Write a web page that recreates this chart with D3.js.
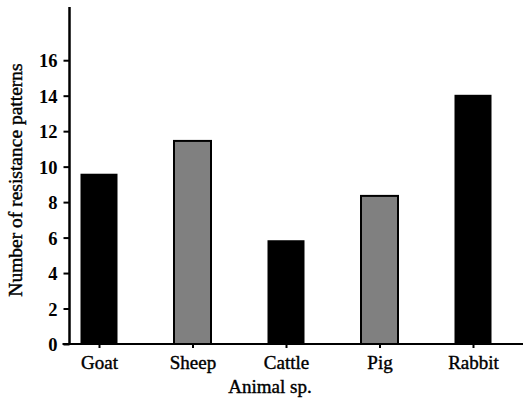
<!DOCTYPE html>
<html>
<head>
<meta charset="utf-8">
<script src="https://cdn.jsdelivr.net/npm/d3@7/dist/d3.min.js"></script>
<style>
  html, body { margin: 0; padding: 0; background: #fff; }
  svg { display: block; }
  text { font-family: "Liberation Serif", "Times New Roman", serif; fill: #000; }
</style>
</head>
<body>
<svg id="chart" width="525" height="402"></svg>
<script>
const categories = ["Goat", "Sheep", "Cattle", "Pig", "Rabbit"];
const values = [9.6, 11.45, 5.85, 8.35, 14.05];
const barFills = ["#000000", "#808080", "#000000", "#808080", "#000000"];
const yTicks = [0, 2, 4, 6, 8, 10, 12, 14, 16];
const yTitle = "Number of resistance patterns";
const xTitle = "Animal sp.";

const svg = d3.select("#chart");
const x0 = 69.5, xEnd = 523, y0 = 344, yTop = 7;

const x = d3.scalePoint().domain(categories).range([99, 473]);
const y = d3.scaleLinear().domain([0, 19]).range([y0, yTop]);
const barW = 37;

// bars
svg.append("g").selectAll("rect")
  .data(categories)
  .join("rect")
  .attr("x", d => x(d) - barW / 2)
  .attr("width", barW)
  .attr("y", (d, i) => y(values[i]))
  .attr("height", (d, i) => y0 - y(values[i]))
  .attr("fill", (d, i) => barFills[i])
  .attr("stroke", "#000")
  .attr("stroke-width", (d, i) => barFills[i] === "#000000" ? 0 : 2);

// y axis
const yAxis = svg.append("g").attr("transform", `translate(${x0},0)`)
  .call(d3.axisLeft(y).tickValues(yTicks).tickSize(6).tickPadding(6).tickSizeOuter(0));
yAxis.select(".domain").remove();
yAxis.selectAll(".tick line").attr("stroke", "#000").attr("stroke-width", 2);
yAxis.selectAll(".tick text")
  .style("font-family", '"Liberation Serif", serif')
  .style("font-size", "18.5px")
  .style("font-weight", "bold")
  .attr("dy", "0.36em");
yAxis.append("line").attr("x1", 0).attr("x2", 0).attr("y1", yTop).attr("y2", y0 + 1)
  .attr("stroke", "#000").attr("stroke-width", 2.5);

// x axis
const xAxis = svg.append("g").attr("transform", `translate(0,${y0})`)
  .call(d3.axisBottom(x).tickSize(4).tickPadding(8).tickSizeOuter(0));
xAxis.select(".domain").remove();
xAxis.selectAll(".tick line").attr("stroke", "#000").attr("stroke-width", 2);
xAxis.selectAll(".tick text")
  .style("font-family", '"Liberation Serif", serif')
  .style("font-size", "19px")
  .style("stroke", "#000")
  .style("stroke-width", "0.4px")
  .attr("dy", "0.71em");
xAxis.append("line").attr("x1", x0 - 7).attr("x2", xEnd).attr("y1", 0).attr("y2", 0)
  .attr("stroke", "#000").attr("stroke-width", 2);

// titles
svg.append("text")
  .attr("transform", "translate(22,180) rotate(-90)")
  .attr("text-anchor", "middle")
  .style("font-size", "19.5px")
  .style("stroke", "#000")
  .style("stroke-width", "0.4px")
  .text(yTitle);
svg.append("text")
  .attr("x", 270).attr("y", 393)
  .attr("text-anchor", "middle")
  .style("font-size", "19px")
  .style("stroke", "#000")
  .style("stroke-width", "0.4px")
  .text(xTitle);
</script>
</body>
</html>
